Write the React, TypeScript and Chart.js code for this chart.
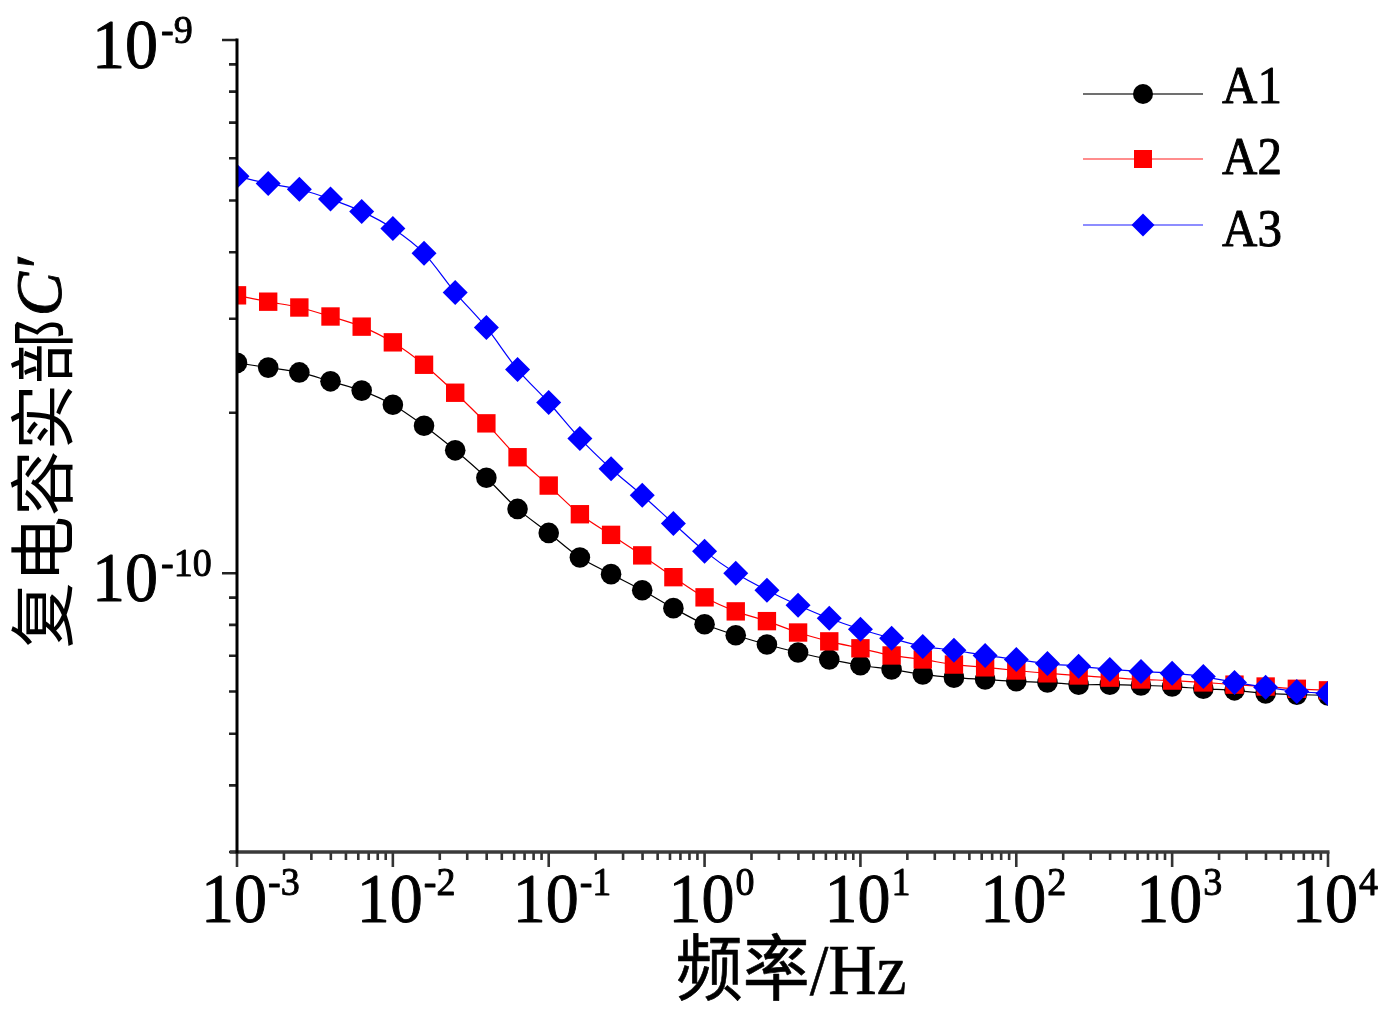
import { useEffect, useRef } from 'react';
import { Chart, registerables } from 'chart.js';

Chart.register(...registerables);

// Measurement frequencies (Hz), five points per decade
const frequencies = [
  0.001, 0.001585, 0.002512, 0.003981, 0.00631,
  0.01, 0.01585, 0.02512, 0.03981, 0.0631,
  0.1, 0.1585, 0.2512, 0.3981, 0.631,
  1, 1.585, 2.512, 3.981, 6.31,
  10, 15.85, 25.12, 39.81, 63.1,
  100, 158.5, 251.2, 398.1, 631,
  1000, 1585, 2512, 3981, 6310,
  10000,
];

// Real part of complex capacitance C' (F)
const a1Values = [
  2.48e-10, 2.43e-10, 2.38e-10, 2.29e-10, 2.2e-10,
  2.07e-10, 1.89e-10, 1.7e-10, 1.51e-10, 1.32e-10,
  1.19e-10, 1.07e-10, 9.96e-11, 9.29e-11, 8.6e-11,
  8.02e-11, 7.65e-11, 7.35e-11, 7.1e-11, 6.89e-11,
  6.72e-11, 6.6e-11, 6.46e-11, 6.37e-11, 6.32e-11,
  6.27e-11, 6.24e-11, 6.18e-11, 6.18e-11, 6.16e-11,
  6.13e-11, 6.07e-11, 6.03e-11, 5.95e-11, 5.92e-11,
  5.9e-11,
];

const a2Values = [
  3.32e-10, 3.23e-10, 3.15e-10, 3.03e-10, 2.9e-10,
  2.71e-10, 2.46e-10, 2.18e-10, 1.91e-10, 1.65e-10,
  1.46e-10, 1.29e-10, 1.18e-10, 1.08e-10, 9.83e-11,
  9.01e-11, 8.48e-11, 8.13e-11, 7.74e-11, 7.45e-11,
  7.23e-11, 7.01e-11, 6.89e-11, 6.74e-11, 6.66e-11,
  6.57e-11, 6.49e-11, 6.43e-11, 6.37e-11, 6.32e-11,
  6.29e-11, 6.24e-11, 6.18e-11, 6.13e-11, 6.07e-11,
  6.03e-11,
];

const a3Values = [
  5.55e-10, 5.38e-10, 5.25e-10, 5.03e-10, 4.77e-10,
  4.43e-10, 3.98e-10, 3.36e-10, 2.89e-10, 2.41e-10,
  2.09e-10, 1.79e-10, 1.57e-10, 1.4e-10, 1.24e-10,
  1.1e-10, 1.0e-10, 9.29e-11, 8.71e-11, 8.23e-11,
  7.85e-11, 7.55e-11, 7.29e-11, 7.17e-11, 7.01e-11,
  6.89e-11, 6.77e-11, 6.69e-11, 6.6e-11, 6.54e-11,
  6.49e-11, 6.4e-11, 6.24e-11, 6.11e-11, 6.0e-11,
  5.95e-11,
];

const seriesNames = ['A1', 'A2', 'A3'];
const seriesColors = ['#000000', '#ff0000', '#0000ff'];

// Decade exponents that carry a "10^n" label
const xTickExponents = [-3, -2, -1, 0, 1, 2, 3, 4];
const yTickExponents = [-10, -9];

const X_MIN = 1e-3;
const X_MAX = 1e4;
const Y_MIN = 3e-11;
const Y_MAX = 1e-9;

const SERIF = "'Liberation Serif', 'Noto Sans CJK SC', serif";
const TEXT_STRETCH = 1.07;

function drawText(
  ctx: CanvasRenderingContext2D,
  text: string,
  x: number,
  y: number,
  font: string,
  align: CanvasTextAlign,
  weight = 0.9,
  sy = TEXT_STRETCH,
) {
  ctx.save();
  ctx.font = font;
  ctx.textAlign = align;
  ctx.textBaseline = 'alphabetic';
  ctx.translate(x, y);
  ctx.scale(1, sy);
  ctx.fillText(text, 0, 0);
  if (weight > 0) {
    ctx.lineWidth = weight;
    ctx.strokeStyle = ctx.fillStyle as string;
    ctx.lineJoin = 'round';
    ctx.strokeText(text, 0, 0);
  }
  ctx.restore();
}

function measure(ctx: CanvasRenderingContext2D, text: string, font: string) {
  ctx.save();
  ctx.font = font;
  const w = ctx.measureText(text).width;
  ctx.restore();
  return w;
}

function minorValues(fromExp: number, toExp: number, lo: number, hi: number) {
  const out: number[] = [];
  for (let e = fromExp; e <= toExp; e++) {
    for (let m = 2; m <= 9; m++) {
      const v = m * Math.pow(10, e);
      if (v >= lo * 0.999 && v <= hi * 1.001) out.push(v);
    }
  }
  return out;
}

// Axes, ticks, power-of-ten labels, titles and legend
const framePlugin = {
  id: 'frame',
  afterDatasetsDraw(chart: any) {
    const { ctx, chartArea: ca, scales } = chart;
    const xs = scales.x;
    const ys = scales.y;
    ctx.save();
    ctx.fillStyle = '#000';

    // y ticks (outward, to the left)
    ctx.strokeStyle = '#222';
    ctx.lineWidth = 2.6;
    ctx.beginPath();
    for (const v of minorValues(-11, -10, Y_MIN, Y_MAX)) {
      const y = ys.getPixelForValue(v);
      ctx.moveTo(ca.left, y);
      ctx.lineTo(ca.left - 8, y);
    }
    for (const e of yTickExponents) {
      const y = ys.getPixelForValue(Math.pow(10, e));
      ctx.moveTo(ca.left, y);
      ctx.lineTo(ca.left - 15, y);
    }
    ctx.stroke();

    // x ticks (outward, downward)
    ctx.strokeStyle = '#333';
    ctx.beginPath();
    for (const v of minorValues(-3, 3, X_MIN, X_MAX)) {
      const x = xs.getPixelForValue(v);
      ctx.moveTo(x, ca.bottom);
      ctx.lineTo(x, ca.bottom + 8);
    }
    for (const e of xTickExponents) {
      const x = xs.getPixelForValue(Math.pow(10, e));
      ctx.moveTo(x, ca.bottom);
      ctx.lineTo(x, ca.bottom + 15);
    }
    ctx.stroke();

    // axis lines
    ctx.strokeStyle = '#3a3a3a';
    ctx.lineWidth = 3.5;
    ctx.beginPath();
    ctx.moveTo(ca.left - 7, ca.bottom);
    ctx.lineTo(ca.right + 1.5, ca.bottom);
    ctx.stroke();
    ctx.strokeStyle = '#000';
    ctx.lineWidth = 3;
    ctx.beginPath();
    ctx.moveTo(ca.left, ca.top - 1.5);
    ctx.lineTo(ca.left, ca.bottom + 1.5);
    ctx.stroke();

    // x tick labels: "10" centred on the tick, exponent as superscript
    const baseFont = `66px ${SERIF}`;
    const supFont = `38px ${SERIF}`;
    const baseW = measure(ctx, '10', baseFont);
    for (const e of xTickExponents) {
      const x = xs.getPixelForValue(Math.pow(10, e));
      const baseline = ca.bottom + 70;
      drawText(ctx, '10', x - 3, baseline, baseFont, 'center');
      drawText(ctx, String(e), x - 3 + baseW / 2 + 1, baseline - 27, supFont, 'left');
    }

    // y tick labels
    for (const e of yTickExponents) {
      const y = ys.getPixelForValue(Math.pow(10, e));
      const right = ca.left - 79;
      const baseline = y + 28;
      drawText(ctx, '10', right, baseline, baseFont, 'right');
      drawText(ctx, String(e), right + 3, baseline - 25, supFont, 'left');
    }

    // x title
    drawText(ctx, '频率/Hz', 791, 994, `67px ${SERIF}`, 'center', 0.6);

    // y title, rotated
    ctx.save();
    ctx.translate(42, 454);
    ctx.rotate(-Math.PI / 2);
    const cnFont = `66px 'Noto Sans CJK SC', sans-serif`;
    const cFont = `italic 66px ${SERIF}`;
    const cn = '复电容实部';
    const cc = 'C′';
    const w1 = measure(ctx, cn, cnFont);
    const w2 = measure(ctx, cc, cFont);
    const start = -(w1 + w2) / 2;
    ctx.textBaseline = 'middle';
    ctx.textAlign = 'left';
    ctx.font = cnFont;
    ctx.fillText(cn, start, 0);
    ctx.font = cFont;
    ctx.fillText(cc, start + w1 + 2, 2);
    ctx.lineWidth = 0.9;
    ctx.strokeStyle = '#000';
    ctx.strokeText(cc, start + w1 + 2, 2);
    ctx.restore();

    // legend
    const rows = [94, 159, 225];
    const lineL = 1083;
    const lineR = 1203;
    const mx = 1143;
    seriesNames.forEach((name, i) => {
      const y = rows[i];
      const color = seriesColors[i];
      ctx.strokeStyle = color;
      ctx.globalAlpha = i === 0 ? 0.75 : 0.6;
      ctx.lineWidth = 1.3;
      ctx.beginPath();
      ctx.moveTo(lineL, y);
      ctx.lineTo(lineR, y);
      ctx.stroke();
      ctx.globalAlpha = 1;
      ctx.fillStyle = color;
      ctx.beginPath();
      if (i === 0) {
        ctx.arc(mx, y, 10, 0, Math.PI * 2);
      } else if (i === 1) {
        ctx.rect(mx - 9, y - 9, 18, 18);
      } else {
        const r = 11.5;
        ctx.moveTo(mx - r, y);
        ctx.lineTo(mx, y - r);
        ctx.lineTo(mx + r, y);
        ctx.lineTo(mx, y + r);
        ctx.closePath();
      }
      ctx.fill();
      ctx.fillStyle = '#000';
      drawText(ctx, name, 1222, y + 10 + (i === 0 ? -1 : 5 + (i - 1) * 6), `49px ${SERIF}`, 'left');
    });

    ctx.restore();
  },
};

function makeDataset(label: string, values: number[], color: string, pointStyle: string, radius: number, order: number) {
  return {
    label,
    data: frequencies.map((f, i) => ({ x: f, y: values[i] })),
    borderColor: color,
    backgroundColor: color,
    pointBackgroundColor: color,
    pointBorderColor: color,
    pointBorderWidth: 0,
    pointStyle,
    pointRadius: radius,
    pointHoverRadius: radius,
    borderWidth: 1.2,
    tension: 0.3,
    order,
  };
}

export default function App() {
  const canvasRef = useRef<HTMLCanvasElement>(null);

  useEffect(() => {
    const canvas = canvasRef.current;
    if (!canvas) return;
    const chart = new Chart(canvas, {
      type: 'line',
      data: {
        datasets: [
          makeDataset(seriesNames[0], a1Values, seriesColors[0], 'circle', 10.3, 2),
          makeDataset(seriesNames[1], a2Values, seriesColors[1], 'rect', 13, 1),
          makeDataset(seriesNames[2], a3Values, seriesColors[2], 'rectRot', 12.5, 0),
        ] as any,
      },
      options: {
        responsive: false,
        animation: false,
        devicePixelRatio: 1,
        events: [],
        layout: { padding: { left: 237, right: 62, top: 40, bottom: 159 } },
        scales: {
          x: { type: 'logarithmic', min: X_MIN, max: X_MAX, display: false },
          y: { type: 'logarithmic', min: Y_MIN, max: Y_MAX, display: false },
        },
        plugins: {
          legend: { display: false },
          tooltip: { enabled: false },
        },
      },
      plugins: [framePlugin],
    });
    return () => chart.destroy();
  }, []);

  return (
    <div style={{ position: 'fixed', left: 0, top: 0, width: 1390, height: 1011, background: '#ffffff' }}>
      <canvas ref={canvasRef} width={1390} height={1011} style={{ display: 'block', width: 1390, height: 1011 }} />
    </div>
  );
}
